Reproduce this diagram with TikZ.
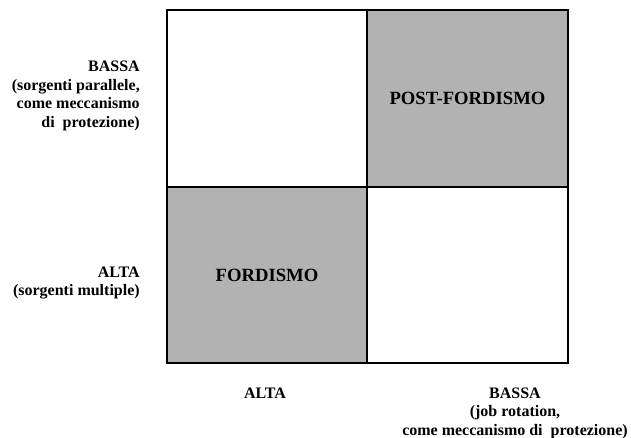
\documentclass[tikz,border=0pt]{standalone}
\usepackage{fontspec}
\setmainfont{Liberation Serif}
\usetikzlibrary{positioning}

\begin{document}
\begin{tikzpicture}[
  x=0.75pt, y=-0.75pt,
  every node/.style={inner sep=0pt, font=\bfseries\fontsize{12}{13.9}\selectfont},
  cell/.style={draw=black, line width=1pt, minimum width=150pt, minimum height=132pt,
    font=\bfseries\fontsize{14}{16}\selectfont},
  shaded/.style={cell, fill=black!30},
  axislabel/.style={align=right, anchor=east},
]
\useasboundingbox (0,0) rectangle (631,438);
\node[cell] (lowhigh) at (267,98.5) {};
\node[shaded] (postford) at (467.5,98.5) {POST-FORDISMO};
\node[shaded] (ford) at (267,275) {FORDISMO};
\node[cell] (lowlow) at (467.5,275) {};
\draw[line width=1pt] (lowhigh.north west) rectangle (lowlow.south east);
\node[axislabel] (rowlow) at (140,96) {BASSA\\(sorgenti parallele,\\come meccanismo\\di\ \ protezione)};
\node[axislabel] (rowhigh) at (140,283) {ALTA\\(sorgenti multiple)};
\node (colhigh) at (265,393) {ALTA};
\node[align=center] (collow) at (515,413) {BASSA\\(job rotation,\\come meccanismo di\ \ protezione)};
\end{tikzpicture}
\end{document}
